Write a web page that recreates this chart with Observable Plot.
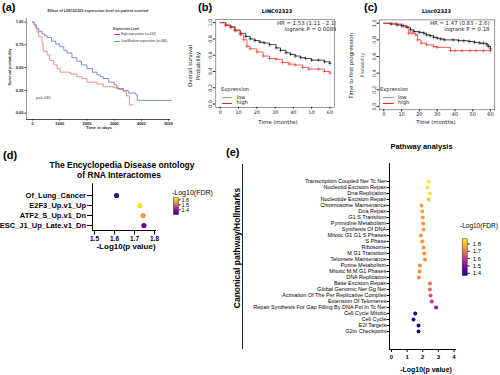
<!DOCTYPE html>
<html><head><meta charset="utf-8">
<script src="https://cdn.jsdelivr.net/npm/d3@7"></script>
<script src="https://cdn.jsdelivr.net/npm/@observablehq/plot@0.6"></script>
<style>
html,body{margin:0;padding:0;background:#fff;}
#root{position:relative;width:500px;height:375px;overflow:hidden;font-family:"Liberation Sans",Arial,sans-serif;color:#000;}
.abs{position:absolute;white-space:nowrap;line-height:1;}
.panel{position:absolute;overflow:hidden;}
.panel svg{position:absolute;left:0;top:0;overflow:visible;}
</style></head><body><div id="root"></div>
<script>
// ---------- (a) survival, days ----------
const aHighT = [0,60,110,170,230,350,390,540,630,780,900,1020,1390,1630,1820,2000,2370,2600,3000,3160,3330,3450,3560,3700];
const aHighS = [1.0,0.97,0.94,0.89,0.84,0.77,0.68,0.64,0.58,0.53,0.49,0.45,0.43,0.40,0.38,0.34,0.32,0.29,0.28,0.26,0.24,0.19,0.09,0.09];
const aLowT = [0,60,150,230,350,450,540,700,850,1000,1150,1270,1450,1630,1800,2000,2200,2370,2500,2600,2800,3000,3100,3340,3520,3800,3850,5100];
const aLowS = [1.0,0.97,0.93,0.90,0.87,0.85,0.83,0.79,0.76,0.73,0.69,0.66,0.61,0.57,0.53,0.49,0.45,0.42,0.40,0.38,0.34,0.31,0.27,0.25,0.22,0.20,0.14,0.14];
const aDayTicks = [0,1000,2000,3000,4000,5000];
const aProbTicks = [0,0.25,0.5,0.75,1];

// ---------- (b) overall survival, months ----------
const bLowT = [0,3,5.7,8,11,14,16.4,19,21.7,24,27,30.6,33,36,38.5,41,44,46.6,50,53.7,57,60];
const bLowS = [1.0,0.97,0.95,0.91,0.87,0.83,0.80,0.78,0.76,0.75,0.73,0.69,0.66,0.63,0.61,0.59,0.57,0.56,0.54,0.54,0.52,0.50];
const bHighT = [0,3,5.7,8.4,11,12.8,14.6,16.4,20,23.5,27,30.6,34,37.7,41,45,48.4,53.7,57,60];
const bHighS = [1.0,0.97,0.94,0.90,0.85,0.79,0.71,0.68,0.64,0.59,0.56,0.55,0.51,0.49,0.48,0.45,0.43,0.43,0.40,0.38];

// ---------- (c) time to first progression, months ----------
const cLowT = [0,4,7.5,10,13,15,17,20,22.5,24,26,28,30,32,34,39,42,45,48,51,54,56,58,59,60];
const cLowS = [1.0,0.99,0.98,0.97,0.95,0.92,0.90,0.89,0.88,0.86,0.85,0.83,0.82,0.81,0.80,0.80,0.79,0.79,0.78,0.77,0.76,0.76,0.74,0.72,0.69];
const cHighT = [0,7,11,14,16,18,19,21,24,28,30,37.5,40,44,48.5,52,56,60];
const cHighS = [1.0,0.99,0.96,0.88,0.88,0.86,0.80,0.76,0.74,0.72,0.71,0.67,0.67,0.67,0.67,0.67,0.67,0.67];
const monthTicks = [0,10,20,30,40,50,60];
const probTicks = [0,0.2,0.4,0.6,0.8,1.0];

// ---------- (d) disease ontology ----------
const dCats = ["Of_Lung_Cancer","E2F3_Up.v1_Up","ATF2_S_Up.v1_Dn","ESC_J1_Up_Late.v1_Dn"];
const dPval = [1.61,1.727,1.743,1.747];
const dFdr  = [1.32,1.62,1.555,1.37];
const dTicks = [1.5,1.6,1.7,1.8];
const dLegTicks = [1.4,1.5,1.6];

// ---------- (e) pathway analysis ----------
const eCats = ["Transcription Coupled Ner Tc Ner","Nucleotid Excision Repair","Dna Replication","Nucleotide Excision Repair","Chromosome Maintenance","Dna Repair","G1 S Transition","Pyrimidine Metabolism","Synthesis Of DNA","Mitotic G1 G1 S Phases","S Phase","Ribosome","M G1 Transition","Telomere Maintenance","Purine Metabolism","Mitotic M M G1 Phases","DNA Replication","Base Excision Repair","Global Genomic Ner Gg Ner","Activation Of The Per Replicative Complex","Extension Of Telomeres","Repair Synthesis For Gap Filling By DNA Pol In Tc Ner","Cell Cycle Mitotic","Cell Cycle","E2f Targets","G2m Checkpoint"];
const ePval = [2.37,2.31,2.46,2.37,1.92,1.97,2.0,2.03,2.05,1.88,1.97,2.05,2.1,2.14,1.82,1.8,1.75,2.46,2.46,2.5,2.58,2.86,1.52,1.41,1.73,1.73];
const eFdr  = [1.86,1.85,1.86,1.81,1.76,1.76,1.76,1.75,1.76,1.74,1.75,1.75,1.75,1.74,1.74,1.74,1.73,1.69,1.69,1.645,1.595,1.53,1.385,1.385,1.385,1.385];
const eTicks = [0,1,2,3,4];
const eLegTicks = [1.4,1.5,1.6,1.7,1.8];

// ---------- helpers ----------
const root = document.getElementById("root");
function panel(x,y,w,h){const d=document.createElement("div");d.className="panel";Object.assign(d.style,{left:x+"px",top:y+"px",width:w+"px",height:h+"px"});d._x=x;d._y=y;root.appendChild(d);return d;}
function put(p, node, x, y){node.style.left=(x-p._x)+"px";node.style.top=(y-p._y)+"px";p.appendChild(node);}
function label(p,str,x,y,o={}){
  const d=document.createElement("div");d.className="abs";d.textContent=str;
  d.style.fontSize=(o.size||5)+"px";d.style.fontWeight=o.weight||"normal";
  if(o.family)d.style.fontFamily=o.family;
  if(o.color)d.style.color=o.color;
  const a=o.anchor||"middle";const tx=a==="start"?"0":a==="end"?"-100%":"-50%";
  d.style.transform=`translate(${tx},-50%)`+(o.rotate?` rotate(${o.rotate}deg)`:"");
  put(p,d,x,y);return d;}
function hline(p,x1,x2,y,color,w){const d=document.createElement("div");d.className="abs";Object.assign(d.style,{width:(x2-x1)+"px",height:"0px",borderTop:`${w}px solid ${color}`,marginTop:(-w/2)+"px"});put(p,d,x1,y);}
function vline(p,x,y1,y2,color,w){const d=document.createElement("div");d.className="abs";Object.assign(d.style,{width:"0px",height:(y2-y1)+"px",borderLeft:`${w}px solid ${color}`,marginLeft:(-w/2)+"px"});put(p,d,x,y1);}
function addPlot(p, svg, x, y){svg.style.left=(x-p._x)+"px";svg.style.top=(y-p._y)+"px";p.appendChild(svg);}
const zip=(T,S)=>T.map((t,i)=>({t,s:S[i]}));
const DV="DejaVu Sans";

// ================= (a) =================
const A = panel(0,0,178,140);
const aHigh = zip(aHighT,aHighS), aLow = zip(aLowT,aLowS);
const aX=[-220,5070], aY=[-0.07,1.04];
addPlot(A, Plot.plot({
  width:170,height:135,marginLeft:26,marginRight:0,marginTop:18,marginBottom:16,
  x:{domain:aX},y:{domain:aY},
  style:{fontFamily:"Liberation Sans",background:"transparent",color:"#222"},
  marks:[
    Plot.ruleX([aX[0]],{stroke:"#555",strokeWidth:0.6}),
    Plot.ruleY([aY[0]],{stroke:"#222",strokeWidth:0.8}),
    Plot.axisX({ticks:aDayTicks,tickSize:1.5,tickPadding:1,fontSize:4,fontWeight:"bold",label:null,tickFormat:d3.format("d")}),
    Plot.axisY({ticks:aProbTicks,tickSize:1.5,tickPadding:1.5,fontSize:4,fontWeight:"bold",label:null,tickFormat:d3.format(".2f")}),
    Plot.line(aLow,{x:"t",y:"s",curve:"step-after",stroke:"#5f72cf",strokeOpacity:0.9,strokeWidth:0.9}),
    Plot.line(aHigh,{x:"t",y:"s",curve:"step-after",stroke:"#f26b6b",strokeOpacity:0.85,strokeWidth:0.9})
  ]}),0,0);
label(A,"(a)",2,7,{size:11,weight:"bold",anchor:"start"});
label(A,"Effect of LINC02323 expression level on patient survival",98,12.3,{size:3.8,weight:"bold",color:"#333"});
label(A,"Survival probability",9.5,67,{size:4,weight:"bold",rotate:-90,color:"#333"});
label(A,"Time in days",99,127.5,{size:4.3,weight:"bold",color:"#333"});
label(A,"p=0.035",36,97.5,{size:4,anchor:"start",color:"#333"});
label(A,"Expression Level",113,30,{size:3.2,weight:"bold",anchor:"start",color:"#333"});
hline(A,114,119.5,34.7,"#ff3b3b",1.2);
label(A,"High expression (n=134)",121,34.7,{size:3.2,anchor:"start",color:"#333"});
hline(A,114,119.5,41.5,"#33aaee",1.2);
label(A,"Low/Medium expression (n=366)",121,41.5,{size:3.2,anchor:"start",color:"#333"});

// ================= (b) and (c) =================
function kmPlot(low, high, w, mL, mR){
  return Plot.plot({
    width:w,height:130,marginLeft:mL,marginRight:mR,marginTop:19.4,marginBottom:20.7,
    x:{domain:[-2.4,62.4]},y:{domain:[-0.04,1.04]},
    style:{fontFamily:DV,background:"transparent",color:"#222"},
    marks:[
      Plot.frame({stroke:"#333",strokeWidth:0.5}),
      Plot.axisX({ticks:monthTicks,tickSize:2,tickPadding:1,fontSize:5,label:null}),
      Plot.axisY({ticks:probTicks,tickSize:2.5,tickPadding:1.5,tickRotate:-90,fontSize:5,label:null,tickFormat:d3.format(".1f")}),
      Plot.line(low,{x:"t",y:"s",curve:"step-after",stroke:"#000",strokeWidth:0.7}),
      Plot.dot(low.slice(1),{x:"t",y:"s",symbol:"plus",r:1.3,stroke:"#000",strokeWidth:0.5}),
      Plot.line(high,{x:"t",y:"s",curve:"step-after",stroke:"#ff2020",strokeWidth:0.7}),
      Plot.dot(high.slice(1),{x:"t",y:"s",symbol:"plus",r:1.3,stroke:"#ff2020",strokeWidth:0.5})
    ]});
}
const B = panel(165,0,171,140);
addPlot(B, kmPlot(zip(bLowT,bLowS), zip(bHighT,bHighS), 175, 51.5, 2.2),165,0);
label(B,"(b)",198,7,{size:11,weight:"bold",anchor:"start"});
label(B,"LINC02323",277,10.5,{size:5,weight:"bold",family:DV});
label(B,"HR = 1.53 (1.11 - 2.1)",336.5,24,{size:5.4,family:DV,anchor:"end",color:"#222"});
label(B,"logrank P = 0.0089",336.5,30,{size:5.4,family:DV,anchor:"end",color:"#222"});
label(B,"Overall survival",190.5,66,{size:5.4,family:DV,rotate:-90,color:"#222"});
label(B,"Probability",198.5,66,{size:5.4,family:DV,rotate:-90,color:"#222"});
label(B,"Time (months)",278,122.7,{size:5.4,family:DV,color:"#222"});
label(B,"Expression",221,90,{size:5.2,family:DV,anchor:"start",color:"#222"});
hline(B,222,231.5,97.7,"#aaaaaa",0.9);
label(B,"low",236.5,97.7,{size:5.2,family:DV,anchor:"start",color:"#222"});
hline(B,222,231.5,103.3,"#ff2020",0.9);
label(B,"high",236.5,103.3,{size:5.2,family:DV,anchor:"start",color:"#222"});

const C = panel(330,0,170,140);
addPlot(C, kmPlot(zip(cLowT,cLowS), zip(cHighT,cHighS), 170, 49, 5.7),330,0);
label(C,"(c)",364,7,{size:11,weight:"bold",anchor:"start"});
label(C,"Linc02323",436.5,10.7,{size:5,weight:"bold",family:DV});
label(C,"HR = 1.47 (0.83 - 2.6)",489.5,24,{size:5.4,family:DV,anchor:"end",color:"#222"});
label(C,"logrank P = 0.18",489.5,30,{size:5.4,family:DV,anchor:"end",color:"#222"});
label(C,"Time to first progression",351,66,{size:6.2,rotate:-90,color:"#222"});
label(C,"Probability",362.5,65,{size:4.6,family:DV,rotate:-90,color:"#222"});
label(C,"Time (months)",436,122.7,{size:5.4,family:DV,color:"#222"});
label(C,"Expression",380,90,{size:5.2,family:DV,anchor:"start",color:"#222"});
hline(C,383,394,97.7,"#aaaaaa",0.9);
label(C,"low",398,97.7,{size:5.2,family:DV,anchor:"start",color:"#222"});
hline(C,383,394,103.3,"#ff2020",0.9);
label(C,"high",398,103.3,{size:5.2,family:DV,anchor:"start",color:"#222"});

// ================= (d) =================
const D = panel(0,140,228,120);
const dData = dCats.map((c,i)=>({cat:c,p:dPval[i],f:dFdr[i]}));
const dColor = {type:"linear",scheme:"plasma",domain:[1.3,1.64]};
addPlot(D, Plot.plot({
  width:200,height:90,marginLeft:92,marginRight:45,marginTop:23.3,marginBottom:20,
  x:{domain:[1.49,1.805]},y:{domain:dCats,range:[34.3,65],padding:0},
  color:dColor,
  style:{fontFamily:"Liberation Sans",background:"transparent",color:"#000"},
  marks:[
    Plot.frame({anchor:"left",strokeWidth:1}),
    Plot.frame({anchor:"bottom",strokeWidth:1}),
    Plot.axisX({ticks:dTicks,tickSize:4.5,tickPadding:1.5,fontSize:6.5,fontWeight:"bold",label:null,tickFormat:d3.format(".1f")}),
    Plot.axisY({tickSize:5,tickPadding:1.5,fontSize:7.5,fontWeight:"bold",label:null}),
    Plot.dot(dData,{x:"p",y:"cat",fill:"f",r:2.6})
  ]}),0,160);
label(D,"(d)",3,155,{size:11,weight:"bold",anchor:"start"});
label(D,"The Encyclopedia Disease ontology",122,164.5,{size:8.5,weight:"bold"});
label(D,"of RNA Interactomes",119,174.5,{size:8.5,weight:"bold"});
label(D,"-Log10(p value)",126,247,{size:8,weight:"bold"});
label(D,"-Log10(FDR)",172,191.5,{size:7,anchor:"start"});
const dLo=1.307,dHi=1.64;
addPlot(D, Plot.plot({
  width:35,height:22,marginLeft:8,marginRight:22,marginTop:2.3,marginBottom:3,
  x:{domain:[0,1],axis:null},y:{domain:[dLo,dHi],axis:null},color:dColor,
  style:{fontFamily:"Liberation Sans",background:"transparent",color:"#000"},
  marks:[
    Plot.raster({x1:0,x2:1,y1:dLo,y2:dHi,width:1,height:60,fill:(x,y)=>y}),
    Plot.frame({stroke:"#222",strokeWidth:0.5}),
    Plot.axisY({anchor:"right",ticks:dLegTicks,tickSize:1.5,tickPadding:1.5,fontSize:5.5,label:null,tickFormat:d3.format(".1f")})
  ]}),165,195);

// ================= (e) =================
const E = panel(200,140,300,235);
const eData = eCats.map((c,i)=>({cat:c,p:ePval[i],f:eFdr[i]}));
const eColor = {type:"linear",scheme:"plasma",domain:[1.37,1.87]};
addPlot(E, Plot.plot({
  width:300,height:235,marginLeft:189,marginRight:45,marginTop:23.3,marginBottom:26,
  x:{domain:[-0.13,4.1]},y:{domain:eCats,range:[29.3,202.3],padding:0},
  color:eColor,
  style:{fontFamily:"Liberation Sans",background:"transparent",color:"#000"},
  marks:[
    Plot.frame({anchor:"left",strokeWidth:1}),
    Plot.frame({anchor:"bottom",strokeWidth:1}),
    Plot.axisX({ticks:eTicks,tickSize:3,tickPadding:2,fontSize:6,fontWeight:"bold",label:null,tickFormat:d3.format("d")}),
    Plot.axisY({tickSize:2.5,tickPadding:0.8,fontSize:5.5,label:null}),
    Plot.dot(eData,{x:"p",y:"cat",fill:"f",r:2})
  ]}),200,140);
label(E,"(e)",226,152,{size:11,weight:"bold",anchor:"start"});
label(E,"Pathway analysis",421.5,147,{size:7.5,weight:"bold"});
label(E,"Canonical pathway/Hollmarks",237,248,{size:8.5,weight:"bold",rotate:-90});
vline(E,242,164,349,"#222",1);
label(E,"-Log10(p value)",426,369,{size:7,weight:"bold"});
label(E,"-Log10(FDR)",460,226,{size:6.5,anchor:"start"});
const eLo=1.37,eHi=1.87;
addPlot(E, Plot.plot({
  width:45,height:45,marginLeft:6.7,marginRight:33.3,marginTop:3.3,marginBottom:5,
  x:{domain:[0,1],axis:null},y:{domain:[eLo,eHi],axis:null},color:eColor,
  style:{fontFamily:"Liberation Sans",background:"transparent",color:"#000"},
  marks:[
    Plot.raster({x1:0,x2:1,y1:eLo,y2:eHi,width:1,height:80,fill:(x,y)=>y}),
    Plot.frame({stroke:"#222",strokeWidth:0.5}),
    Plot.axisY({anchor:"right",ticks:eLegTicks,tickSize:2,tickPadding:3.5,fontSize:6,label:null,tickFormat:d3.format(".1f")})
  ]}),455,235);
</script></body></html>
